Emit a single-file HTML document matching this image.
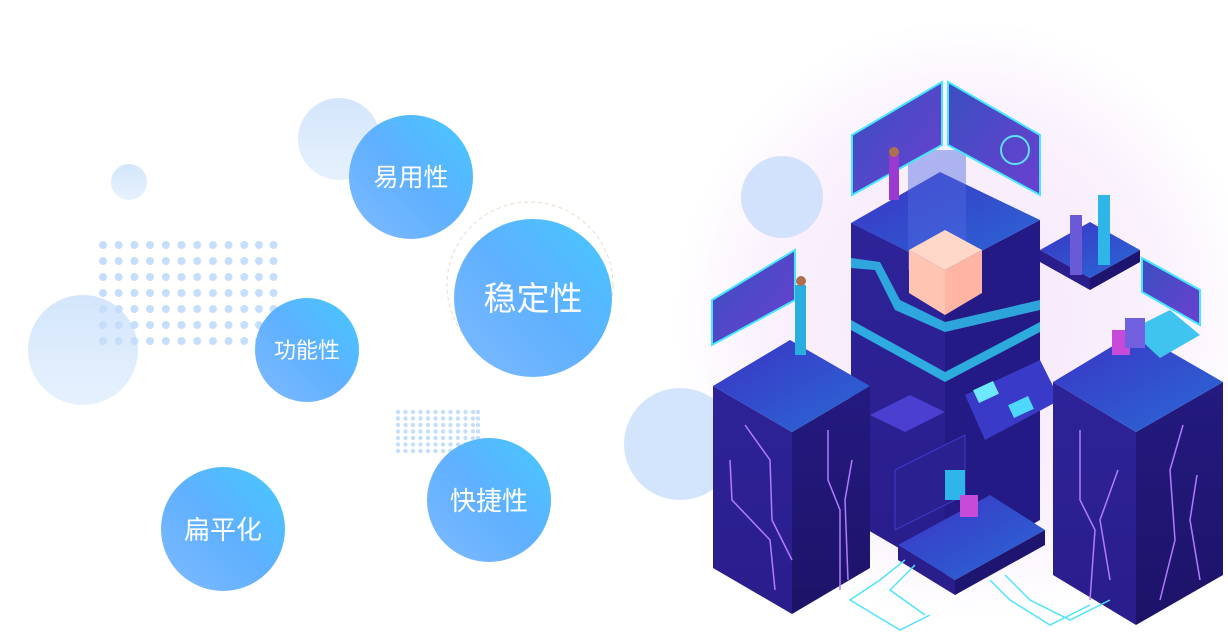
<!DOCTYPE html>
<html><head><meta charset="utf-8"><style>
html,body{margin:0;padding:0;background:#fff;width:1228px;height:636px;overflow:hidden}
svg{display:block}
text{font-family:"Liberation Sans","Noto Sans CJK SC",sans-serif;fill:#fff}
</style></head><body>
<svg width="1228" height="636" viewBox="0 0 1228 636" xmlns="http://www.w3.org/2000/svg">
<defs>
<linearGradient id="bc" x1="1" y1="0" x2="0" y2="1"><stop offset="0" stop-color="#45c8ff"/><stop offset="0.5" stop-color="#5fb0ff"/><stop offset="1" stop-color="#7fbaff"/></linearGradient>
<linearGradient id="pc" x1="0" y1="0" x2="0" y2="1"><stop offset="0" stop-color="#d4e6fc"/><stop offset="1" stop-color="#e6f1fd"/></linearGradient>
<radialGradient id="glow" cx="0.5" cy="0.5" r="0.5"><stop offset="0" stop-color="#f6e6fb"/><stop offset="0.7" stop-color="#faf2fd"/><stop offset="1" stop-color="#ffffff"/></radialGradient>
<linearGradient id="top" x1="0" y1="0" x2="1" y2="1"><stop offset="0" stop-color="#3b33c4"/><stop offset="1" stop-color="#2a6ad6"/></linearGradient>
<linearGradient id="lf" x1="0" y1="0" x2="0" y2="1"><stop offset="0" stop-color="#2d2398"/><stop offset="1" stop-color="#2a1d8c"/></linearGradient>
<linearGradient id="rf" x1="0" y1="0" x2="0" y2="1"><stop offset="0" stop-color="#241a80"/><stop offset="1" stop-color="#1c1368"/></linearGradient>
<linearGradient id="scr" x1="0" y1="0" x2="1" y2="1"><stop offset="0" stop-color="#3a4fc0"/><stop offset="1" stop-color="#6a40d0"/></linearGradient>
<g id="row">
<circle cx="103" cy="0" r="4"/><circle cx="118.7" cy="0" r="4"/><circle cx="134.4" cy="0" r="4"/><circle cx="150" cy="0" r="4"/><circle cx="165.8" cy="0" r="4"/><circle cx="181.5" cy="0" r="4"/><circle cx="197.2" cy="0" r="4"/><circle cx="212.9" cy="0" r="4"/><circle cx="228.6" cy="0" r="4"/><circle cx="244.3" cy="0" r="4"/><circle cx="259" cy="0" r="4"/><circle cx="273.5" cy="0" r="4"/>
</g>
<g id="srow"><circle cx="398" cy="0" r="2.2"/><circle cx="405.5" cy="0" r="2.2"/><circle cx="413" cy="0" r="2.2"/><circle cx="420.5" cy="0" r="2.2"/><circle cx="428" cy="0" r="2.2"/><circle cx="435.5" cy="0" r="2.2"/><circle cx="443" cy="0" r="2.2"/><circle cx="450.5" cy="0" r="2.2"/><circle cx="458" cy="0" r="2.2"/><circle cx="465.5" cy="0" r="2.2"/><circle cx="473" cy="0" r="2.2"/><circle cx="478" cy="0" r="2.2"/></g>
</defs>
<!-- left decoration -->
<circle cx="339" cy="139" r="41" fill="url(#pc)"/>
<circle cx="129" cy="182" r="18" fill="url(#pc)"/>
<circle cx="83" cy="350" r="55" fill="url(#pc)"/>
<g fill="#c5defb">
<use href="#row" y="245"/><use href="#row" y="261"/><use href="#row" y="277"/><use href="#row" y="293"/><use href="#row" y="309"/><use href="#row" y="325"/><use href="#row" y="341"/>
</g>
<g fill="#c5defb">
<use href="#srow" y="412"/><use href="#srow" y="418.5"/><use href="#srow" y="425"/><use href="#srow" y="431.5"/><use href="#srow" y="438"/><use href="#srow" y="444.5"/><use href="#srow" y="451"/>
</g>
<circle cx="530" cy="285" r="83" fill="none" stroke="#eadccb" stroke-dasharray="4 3" stroke-width="1"/>
<circle cx="411" cy="177" r="62" fill="url(#bc)"/>
<text x="411" y="186" font-size="25" text-anchor="middle">易用性</text>
<circle cx="533" cy="298" r="79" fill="url(#bc)"/>
<text x="533" y="310" font-size="33" text-anchor="middle">稳定性</text>
<circle cx="307" cy="350" r="52" fill="url(#bc)"/>
<text x="307" y="358" font-size="22" text-anchor="middle">功能性</text>
<circle cx="489" cy="500" r="62" fill="url(#bc)"/>
<text x="489" y="510" font-size="26" text-anchor="middle">快捷性</text>
<circle cx="223" cy="529" r="62" fill="url(#bc)"/>
<text x="223" y="539" font-size="26" text-anchor="middle">扁平化</text>

<!-- right illustration -->
<ellipse cx="965" cy="320" rx="290" ry="300" fill="url(#glow)"/>
<circle cx="782" cy="197" r="41" fill="#d3e2fc"/>
<circle cx="680" cy="444" r="56" fill="#d3e5fc"/>

<!-- center tower -->
<polygon points="851,223 851,520 945,575 1040,520 1040,220 945,270" fill="#231a86"/>
<polygon points="851,223 945,270 945,575 851,520" fill="url(#lf)"/>
<polygon points="851,223 940,172 1040,220 945,270" fill="url(#top)"/>
<polygon points="851,258 880,262 900,300 945,322 1040,300 1040,310 945,332 895,310 875,270 851,268" fill="#30c8f0" opacity="0.8"/>
<polygon points="851,320 945,372 1040,322 1040,332 945,382 851,330" fill="#2fd0f5" opacity="0.8"/>
<rect x="908" y="150" width="58" height="120" fill="#4f6ae0" opacity="0.45"/>
<polygon points="909,250 945,230 982,250 945,270" fill="#ffd7c8"/>
<polygon points="909,250 945,270 945,315 909,293" fill="#ffc4b2"/>
<polygon points="945,270 982,250 982,293 945,315" fill="#ffb4a4"/>
<polygon points="870,415 910,395 945,412 905,432" fill="#4a3fd0"/>
<polygon points="965,395 1040,360 1060,400 985,440" fill="#3a3ac8"/>
<rect x="975" y="385" width="22" height="14" fill="#6ee8ff" transform="rotate(-25 986 392)"/>
<rect x="1010" y="400" width="22" height="14" fill="#4fd8ff" transform="rotate(-25 1021 407)"/>
<polygon points="852,135 942,82 942,145 852,195" fill="url(#scr)" stroke="#46e6ff" stroke-width="2"/>
<polygon points="948,82 1040,135 1040,195 948,145" fill="url(#scr)" stroke="#46e6ff" stroke-width="2"/>
<circle cx="1015" cy="150" r="14" fill="none" stroke="#5de0ff" stroke-width="2"/>
<rect x="889" y="155" width="10" height="45" fill="#9a3ad0"/><circle cx="894" cy="152" r="5" fill="#b07050"/>
<polygon points="1040,250 1090,222 1140,250 1090,278" fill="url(#top)"/>
<polygon points="1040,250 1090,278 1090,290 1040,262" fill="#2a1d8c"/>
<polygon points="1090,278 1140,250 1140,262 1090,290" fill="#1e1570"/>
<rect x="1070" y="215" width="12" height="60" fill="#6a5ad8"/><rect x="1098" y="195" width="12" height="70" fill="#2fb6e8"/>
<polygon points="1142,258 1200,290 1200,325 1142,292" fill="url(#scr)" stroke="#46e6ff" stroke-width="2"/>
<!-- left tower -->
<polygon points="713,386 792,432 792,614 713,568" fill="url(#lf)"/>
<polygon points="792,432 870,386 870,568 792,614" fill="url(#rf)"/>
<polygon points="713,386 790,340 870,386 792,432" fill="url(#top)"/>
<polygon points="712,300 795,250 795,300 712,345" fill="url(#scr)" stroke="#46e6ff" stroke-width="2"/>
<rect x="795" y="285" width="11" height="70" fill="#2aaee0"/><circle cx="801" cy="281" r="5" fill="#b07050"/>
<g fill="none" stroke="#b07cff" stroke-width="1.5">
<path d="M745,425 L770,460 L772,520 L792,560"/><path d="M730,460 L732,500 L770,540 L775,590"/>
<path d="M828,430 L828,480 L840,510 L840,590"/><path d="M852,460 L845,500 L848,580"/>
</g>
<!-- right tower -->
<polygon points="1053,382 1136,432 1136,625 1053,575" fill="url(#lf)"/>
<polygon points="1136,432 1223,382 1223,575 1136,625" fill="url(#rf)"/>
<polygon points="1053,382 1136,332 1223,382 1136,432" fill="url(#top)"/>
<polygon points="1130,330 1170,310 1200,335 1160,358" fill="#3fc4f0"/>
<rect x="1112" y="330" width="18" height="25" fill="#c84ad8"/><rect x="1125" y="318" width="20" height="30" fill="#7060e0"/>
<g fill="none" stroke="#b07cff" stroke-width="1.5">
<path d="M1080,430 L1080,500 L1095,530 L1090,600"/><path d="M1118,470 L1100,520 L1110,580"/>
<path d="M1183,425 L1170,470 L1175,540 L1160,600"/><path d="M1197,475 L1190,520 L1200,580"/>
</g>
<!-- bottom desk -->
<polygon points="898,545 990,495 1045,530 955,580" fill="url(#top)"/>
<polygon points="898,545 955,580 955,595 898,560" fill="#2a1d8c"/>
<polygon points="955,580 1045,530 1045,545 955,595" fill="#1e1570"/>
<polygon points="895,470 965,435 965,495 895,530" fill="#2a2090" stroke="#3c3cc8"/>
<rect x="945" y="470" width="20" height="30" fill="#2fb6e8"/><rect x="960" y="495" width="18" height="22" fill="#c84ad8"/>
<g fill="none" stroke="#4fe3ff" stroke-width="1.5">
<path d="M905,560 L880,580 L850,600 L900,630 L930,615"/><path d="M915,565 L890,590 L925,615"/>
<path d="M990,580 L1010,600 L1050,625 L1090,605"/><path d="M1005,575 L1030,600 L1070,620 L1110,600"/>
</g>
</svg>
</body></html>
